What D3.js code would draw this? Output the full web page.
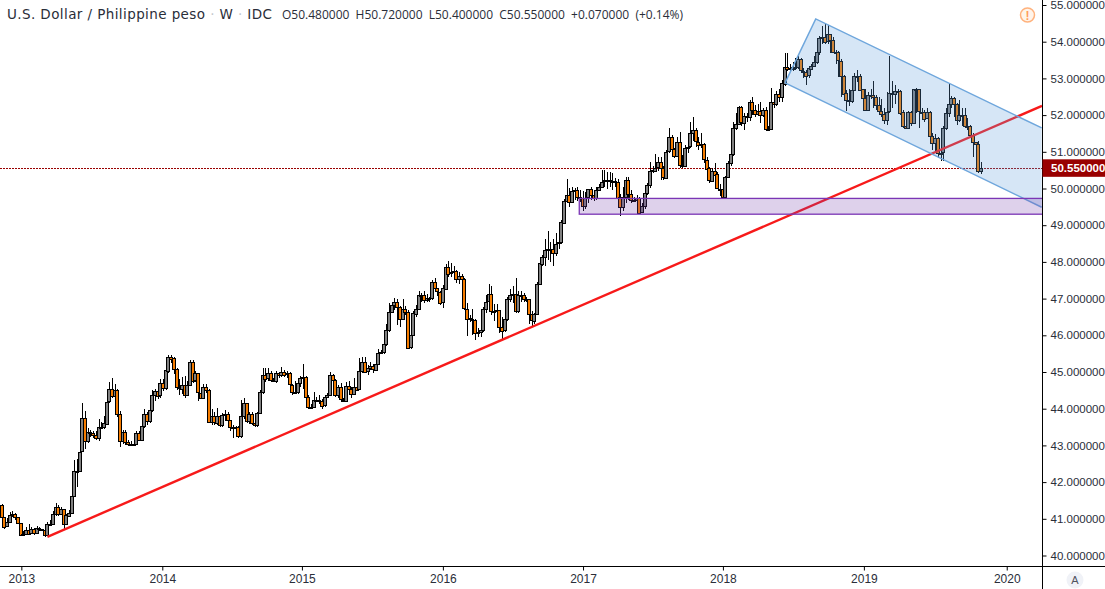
<!DOCTYPE html>
<html>
<head>
<meta charset="utf-8">
<title>USDPHP W</title>
<script src="https://cdn.jsdelivr.net/npm/d3@7/dist/d3.min.js"></script>
<style>
    html, body { margin: 0; padding: 0; background: #fff; }
    svg { display: block; }
    .axis text { font-family: "Liberation Sans", Arial, sans-serif; font-size: 11.5px; fill: #2a2e39; }
    .axis line { stroke: #000; }
</style>
</head>
<body>
<svg id="chart" width="1105" height="589"></svg>
<script>
//周线收盘价，开盘价取上一根收盘
const firstOpen = 41.38;
const closes = [
    41.06,40.80,40.92,41.10,41.13,41.04,40.89,40.55,40.59,40.70,
    40.60,40.71,40.60,40.74,40.72,40.70,40.56,40.86,40.85,41.13,
    41.33,41.13,41.26,40.85,41.10,41.17,41.62,42.30,42.31,42.83,
    43.74,43.12,43.37,43.33,43.28,43.21,43.51,43.50,43.60,44.19,
    44.53,44.35,44.51,43.86,43.12,43.37,43.10,43.05,43.04,43.05,
    43.35,43.16,43.53,43.85,43.66,43.96,44.37,44.48,44.35,44.69,
    44.55,45.05,45.42,45.37,45.07,44.58,44.55,44.65,44.37,44.65,
    45.28,44.76,44.96,44.44,44.31,44.60,44.51,43.65,43.80,43.63,
    43.81,43.56,43.83,43.86,43.69,43.49,43.49,43.49,43.25,43.80,
    44.15,43.66,43.86,43.62,43.56,43.89,44.46,44.93,44.82,44.96,
    44.78,44.76,44.98,44.92,45.01,44.92,44.96,44.65,44.46,44.46,
    44.71,44.85,44.87,44.33,44.05,44.05,44.24,44.25,44.22,44.08,
    44.31,44.37,44.92,44.78,44.37,44.58,44.24,44.21,44.63,44.55,
    44.42,44.60,44.53,45.03,45.28,45.01,45.10,45.16,45.07,45.23,
    45.52,45.55,45.76,46.14,46.64,46.83,46.92,46.78,46.46,46.73,
    46.64,45.67,46.01,46.60,46.73,47.10,47.10,46.96,47.01,47.01,
    47.44,47.28,47.19,46.89,47.28,47.87,47.69,47.72,47.76,47.53,
    47.62,47.53,46.73,46.46,46.45,46.42,46.07,46.10,46.15,46.73,
    46.92,47.12,46.67,46.67,46.69,46.23,46.13,46.44,46.98,47.10,
    47.13,46.66,47.10,47.10,46.98,46.98,46.57,46.40,46.58,47.39,
    47.96,48.14,48.32,48.36,48.36,48.26,48.50,48.53,49.08,49.67,
    49.82,49.64,49.94,49.96,49.76,49.73,49.52,49.75,49.98,49.82,
    49.73,49.96,50.05,50.19,50.23,50.23,50.20,50.20,50.19,49.76,
    49.49,49.76,50.23,49.85,49.69,49.69,49.75,49.35,49.51,49.87,
    50.09,50.48,50.50,50.57,50.71,50.55,50.30,51.00,51.39,51.07,
    50.89,51.28,50.64,50.62,51.11,51.14,51.50,51.59,51.28,51.20,
    51.20,50.79,50.55,50.23,50.49,50.39,50.00,49.99,49.76,50.30,
    50.69,50.93,51.64,51.76,52.21,51.79,51.97,51.94,52.36,52.14,
    52.03,52.12,52.00,52.14,51.61,51.62,52.36,52.30,52.57,52.50,
    52.87,53.32,53.27,53.27,53.32,53.29,53.52,53.21,53.18,53.07,
    53.27,53.34,53.46,53.73,54.11,54.14,54.00,54.20,54.05,53.71,
    53.71,53.48,53.07,52.59,52.41,52.37,52.68,53.07,53.07,52.70,
    52.46,52.14,52.55,52.55,52.50,52.27,52.12,52.03,51.88,52.09,
    52.59,52.59,52.67,52.67,52.08,51.69,51.64,52.08,51.78,52.70,
    52.70,52.09,52.09,51.91,52.08,51.43,51.23,51.37,50.96,50.98,
    51.64,52.05,52.30,52.46,52.30,51.87,52.00,52.00,51.70,51.70,
    51.46,51.28,51.22,50.48,50.55
];
const highs = [
    41.40,41.06,41.02,41.18,41.22,41.15,41.04,40.89,40.68,40.79,
    40.86,40.78,40.74,40.80,40.78,40.73,40.72,40.92,40.98,41.20,
    41.44,41.38,41.33,41.28,41.14,41.24,41.66,42.60,42.62,42.90,
    44.15,43.95,43.48,43.42,43.40,43.38,43.73,43.64,43.80,44.30,
    44.74,44.85,44.68,44.54,43.93,43.42,43.42,43.15,43.12,43.14,
    43.40,43.40,43.68,43.98,43.92,44.03,44.50,44.55,44.52,44.82,
    44.80,45.10,45.46,45.46,45.40,45.10,44.82,44.86,44.88,44.76,
    45.34,45.32,45.02,44.98,44.45,44.66,44.66,44.55,43.98,43.92,
    44.02,43.82,43.88,43.96,43.90,43.70,43.55,43.52,43.52,44.25,
    44.30,43.92,43.92,43.90,43.64,43.92,44.50,45.10,45.12,45.10,
    45.04,44.85,45.04,45.00,45.14,45.06,45.02,45.00,44.66,44.76,
    44.80,44.90,45.22,44.90,44.38,44.12,44.46,44.32,44.38,44.26,
    44.35,44.42,45.00,44.95,44.80,44.65,44.70,44.30,44.72,44.75,
    44.60,44.85,44.66,45.38,45.40,45.40,45.20,45.26,45.22,45.40,
    45.62,45.60,45.92,46.32,46.88,46.90,47.02,47.00,46.80,47.00,
    46.80,46.70,46.08,46.65,46.82,47.20,47.15,47.20,47.12,47.05,
    47.52,47.55,47.30,47.20,47.38,47.95,48.03,47.98,47.90,47.78,
    47.72,47.68,47.55,46.88,46.55,46.72,46.45,46.20,46.30,46.78,
    47.10,47.40,47.35,46.85,46.85,46.68,46.50,46.62,47.04,47.25,
    47.35,47.55,47.22,47.20,47.15,47.05,47.00,46.65,46.62,47.45,
    48.00,48.20,48.62,48.85,48.55,48.62,48.80,48.60,49.15,49.72,
    50.25,50.02,50.05,50.02,50.05,49.95,49.92,49.90,50.00,50.05,
    49.85,50.04,50.12,50.50,50.50,50.45,50.44,50.42,50.28,50.25,
    49.85,50.05,50.30,50.32,49.95,49.78,49.82,49.78,49.60,50.02,
    50.15,50.72,50.62,50.95,50.85,50.85,50.62,51.05,51.64,51.45,
    51.10,51.40,51.55,50.90,51.18,51.22,51.80,51.96,51.65,51.40,
    51.50,51.25,50.85,50.58,50.55,50.70,50.45,50.12,50.05,50.35,
    50.75,51.02,51.80,52.05,52.26,52.25,52.05,52.05,52.42,52.48,
    52.28,52.30,52.35,52.20,52.22,51.70,52.75,52.42,52.66,52.72,
    52.95,53.68,53.70,53.40,53.45,53.55,53.62,53.55,53.28,53.22,
    53.30,53.40,53.62,53.95,54.15,54.44,54.48,54.45,54.22,54.12,
    53.78,53.74,53.52,53.10,52.68,52.72,52.78,53.15,53.22,53.12,
    52.70,52.72,52.62,52.70,52.92,52.55,52.50,52.45,52.18,52.62,
    53.62,52.92,52.82,52.72,52.68,52.15,51.75,52.12,52.12,52.72,
    52.74,52.70,52.18,52.14,52.20,52.10,51.50,51.48,51.40,51.12,
    51.70,52.18,52.85,52.52,52.50,52.32,52.42,52.18,52.20,51.92,
    51.72,51.50,51.28,51.30,50.72
];
const lows = [
    41.00,40.72,40.80,40.90,41.05,40.98,40.86,40.52,40.52,40.58,
    40.55,40.58,40.57,40.60,40.68,40.66,40.50,40.52,40.80,40.82,
    41.08,41.08,41.10,40.72,40.82,41.04,41.14,41.60,41.87,42.30,
    42.85,42.90,43.06,43.22,43.20,43.14,43.12,43.45,43.46,43.55,
    44.15,44.28,44.20,43.78,42.95,43.05,43.00,42.98,42.98,42.98,
    43.00,43.12,43.14,43.47,43.56,43.62,43.92,44.22,44.26,44.30,
    44.48,44.52,44.98,45.25,44.95,44.50,44.38,44.40,44.30,44.34,
    44.62,44.70,44.72,44.22,44.28,44.26,44.42,43.60,43.55,43.55,
    43.55,43.50,43.50,43.66,43.62,43.40,43.20,43.32,43.19,43.20,
    43.72,43.60,43.58,43.56,43.50,43.50,43.88,44.40,44.72,44.76,
    44.72,44.72,44.70,44.84,44.86,44.86,44.84,44.44,44.38,44.40,
    44.40,44.60,44.55,44.25,43.98,44.00,44.02,44.18,44.14,43.98,
    44.04,44.28,44.35,44.70,44.32,44.30,44.20,44.18,44.20,44.45,
    44.30,44.40,44.48,44.50,44.98,44.96,44.92,45.05,44.98,45.02,
    45.18,45.48,45.50,45.72,46.10,46.60,46.70,46.28,46.22,46.42,
    46.55,45.65,45.62,46.00,46.50,46.70,46.90,46.88,46.90,46.92,
    46.96,47.20,47.08,46.82,46.75,47.25,47.58,47.60,47.62,47.42,
    47.40,47.45,46.68,45.98,46.36,46.02,45.88,45.95,45.95,46.10,
    46.62,46.88,46.55,46.40,46.45,46.05,45.90,46.08,46.40,46.90,
    46.88,46.60,46.62,46.92,46.90,46.90,46.30,46.22,46.30,46.55,
    47.39,47.90,47.90,48.05,48.00,47.90,48.15,48.35,48.50,49.05,
    49.60,49.50,49.60,49.68,49.65,49.62,49.40,49.45,49.60,49.70,
    49.65,49.70,49.95,50.02,50.05,50.00,50.05,49.95,50.05,49.72,
    49.25,49.40,49.60,49.70,49.60,49.62,49.58,49.30,49.32,49.45,
    49.82,50.02,50.42,50.45,50.48,50.22,50.22,50.25,50.98,50.98,
    50.82,50.85,50.55,50.55,50.58,50.98,51.10,51.30,51.14,51.05,
    51.10,50.70,50.20,50.15,50.18,50.25,49.98,49.80,49.72,49.76,
    50.28,50.62,50.88,51.60,51.72,51.70,51.60,51.80,51.85,52.00,
    51.95,51.98,51.78,51.95,51.58,51.58,51.60,52.20,52.25,52.36,
    52.35,52.80,53.20,53.20,53.20,53.22,53.25,53.15,53.00,52.82,
    53.00,53.25,53.30,53.40,53.65,53.95,53.95,53.95,53.70,53.68,
    53.40,53.05,52.50,52.45,52.12,52.25,52.32,52.65,52.90,52.65,
    52.40,52.10,52.12,52.45,52.20,52.15,52.00,51.95,51.75,51.72,
    52.05,52.20,52.30,52.60,52.00,51.65,51.62,51.68,51.70,51.75,
    52.05,51.65,51.90,51.82,51.90,51.38,51.05,51.00,50.82,50.75,
    50.75,51.60,51.95,52.20,51.95,51.72,51.80,51.70,51.66,51.60,
    51.40,50.85,50.90,50.42,50.40
];

//坐标轴刻度
const priceTicks = [40,41,42,43,44,45,46,47,48,49,50,51,52,53,54,55];
const yearLabels = ["2013","2014","2015","2016","2017","2018","2019","2020"];
const yearBars = [7.3,59.7,111.6,164.0,216.1,268.1,320.5,373.6];

//画线工具：[K线序号, 价格]
const trendLine = [[17,40.51],[386.7,52.25]];
const channelPoints = [[291.2,52.88],[302.6,54.62],[386.6,51.65],[386.6,49.49]];
const zoneBox = {from: 214.7, to: 386.7, top: 49.73, bottom: 49.30};
const lastPrice = 50.55;

const legendTitle = ["U.S. Dollar / Philippine peso", "W", "IDC"];
const legendValues = ["O50.480000","H50.720000","L50.400000","C50.550000","+0.070000","(+0.14%)"];

const svg = d3.select("#chart");
const axisX = 1042.5, axisY = 566.5;

const xScale = d3.scaleLinear().domain([0, closes.length - 1]).range([1.7, 980.9]);
const yScale = d3.scaleLinear().domain([40, 55]).range([555.5, 5]);

//绘图区裁剪
svg.append("clipPath").attr("id", "plot")
    .append("rect").attr("width", axisX).attr("height", axisY);

const candles = closes.map((c, i) => ({
    i: i,
    open: i === 0 ? firstOpen : closes[i - 1],
    close: c,
    high: highs[i],
    low: lows[i]
}));

const plot = svg.append("g").attr("clip-path", "url(#plot)");

//最新价虚线
plot.append("line")
    .attr("x1", 0).attr("x2", axisX)
    .attr("y1", Math.round(yScale(lastPrice)) + 0.5).attr("y2", Math.round(yScale(lastPrice)) + 0.5)
    .attr("stroke", "#990000")
    .attr("stroke-dasharray", "2,1");

//K线
const candle = plot.append("g").selectAll("g").data(candles).enter().append("g");
candle.append("line")
    .attr("x1", d => Math.round(xScale(d.i)) + 0.5)
    .attr("x2", d => Math.round(xScale(d.i)) + 0.5)
    .attr("y1", d => yScale(d.high))
    .attr("y2", d => yScale(d.low))
    .attr("stroke", "#000")
    .attr("shape-rendering", "crispEdges");
candle.append("rect")
    .attr("x", d => Math.round(xScale(d.i)) - 1.5)
    .attr("width", 3)
    .attr("y", d => Math.round(yScale(Math.max(d.open, d.close))) + 0.5)
    .attr("height", d => Math.max(1, Math.round(Math.abs(yScale(d.open) - yScale(d.close)))))
    .attr("fill", d => d.close >= d.open ? "#808080" : "#f57c00")
    .attr("stroke", "#000")
    .attr("shape-rendering", "crispEdges");

//红色趋势线
plot.append("line")
    .attr("x1", xScale(trendLine[0][0])).attr("y1", yScale(trendLine[0][1]))
    .attr("x2", xScale(trendLine[1][0])).attr("y2", yScale(trendLine[1][1]))
    .attr("stroke", "#f71a1a")
    .attr("stroke-width", 2.4);

//下降通道
plot.append("polygon")
    .attr("points", channelPoints.map(p => xScale(p[0]) + "," + yScale(p[1])).join(" "))
    .attr("fill", "rgba(95,160,220,0.26)");
plot.append("path")
    .attr("d", d3.line().x(p => xScale(p[0])).y(p => yScale(p[1]))(channelPoints.slice(0, 3)))
    .attr("fill", "none").attr("stroke", "#6ea6dc").attr("stroke-width", 1.5);
plot.append("path")
    .attr("d", d3.line().x(p => xScale(p[0])).y(p => yScale(p[1]))([channelPoints[0], channelPoints[3]]))
    .attr("fill", "none").attr("stroke", "#6ea6dc").attr("stroke-width", 1.5);

//紫色区间
plot.append("rect")
    .attr("x", xScale(zoneBox.from))
    .attr("width", xScale(zoneBox.to) - xScale(zoneBox.from) + 4)
    .attr("y", yScale(zoneBox.top))
    .attr("height", yScale(zoneBox.bottom) - yScale(zoneBox.top))
    .attr("fill", "rgba(118,62,170,0.24)")
    .attr("stroke", "#7b35b5")
    .attr("stroke-width", 1.3);

//价格轴
const yAxis = svg.append("g").attr("class", "axis")
    .attr("transform", "translate(" + axisX + ",0)")
    .call(d3.axisRight(yScale).tickValues(priceTicks).tickFormat(d3.format(".6f")).tickSize(4).tickPadding(4));
yAxis.select(".domain").remove();

//时间轴
const xAxis = svg.append("g").attr("class", "axis")
    .attr("transform", "translate(0," + axisY + ")")
    .call(d3.axisBottom(xScale).tickValues(yearBars)
        .tickFormat((d, i) => yearLabels[i]).tickSize(4).tickPadding(4));
xAxis.select(".domain").remove();
xAxis.selectAll("text").style("font-size", "12px");

svg.append("line").attr("x1", axisX).attr("x2", axisX).attr("y1", 0).attr("y2", 589).attr("stroke", "#000");
svg.append("line").attr("x1", 0).attr("x2", 1105).attr("y1", axisY).attr("y2", axisY).attr("stroke", "#000");

//最新价标签
svg.append("rect")
    .attr("x", axisX).attr("y", yScale(lastPrice) - 9)
    .attr("width", 1105 - axisX).attr("height", 17.5)
    .attr("fill", "#990000");
svg.append("text")
    .attr("x", 1051).attr("y", yScale(lastPrice) + 4)
    .attr("fill", "#fff")
    .style("font", "bold 11.5px 'Liberation Sans', Arial, sans-serif")
    .text(d3.format(".6f")(lastPrice));

//图例，标题中的分隔点颜色较淡
const titleText = svg.append("text")
    .attr("x", 7).attr("y", 19)
    .attr("fill", "#2a2e39")
    .attr("textLength", 265)
    .style("font", "13.5px 'DejaVu Sans', sans-serif");
legendTitle.forEach((t, i) => {
    if (i > 0) titleText.append("tspan").attr("fill", "#c4c6cc").text(" · ");
    titleText.append("tspan").text(t);
});
svg.append("text")
    .attr("x", 282).attr("y", 19)
    .attr("fill", "#2a2e39")
    .style("font", "12px 'Open Sans', sans-serif")
    .style("white-space", "pre")
    .text(legendValues.join("  "));

//提示图标
const alertIcon = svg.append("g").attr("transform", "translate(1027.5,15)");
alertIcon.append("circle").attr("r", 7).attr("fill", "#fff4ea").attr("stroke", "#ffb27d").attr("stroke-width", 1.5);
alertIcon.append("text").attr("text-anchor", "middle").attr("y", 4.5).attr("fill", "#ff9d5c")
    .style("font", "bold 12px 'Liberation Sans', sans-serif").text("!");

//自动缩放按钮
const autoBtn = svg.append("g").attr("transform", "translate(1075,580)");
autoBtn.append("circle").attr("r", 8.5).attr("fill", "#f0f2f7");
autoBtn.append("text").attr("text-anchor", "middle").attr("y", 4).attr("fill", "#50535e")
    .style("font", "11px 'Liberation Sans', sans-serif").text("A");
</script>
</body>
</html>
